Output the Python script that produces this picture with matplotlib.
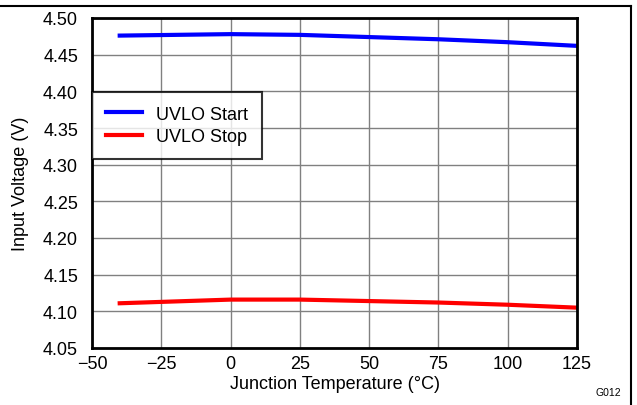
import matplotlib.pyplot as plt
from matplotlib.lines import Line2D

plt.rcParams['font.family'] = ['Liberation Sans', 'DejaVu Sans']

# junction temperature (C)
temps = [-40, 0, 25, 50, 75, 100, 125]
uvlo_start = [4.476, 4.478, 4.477, 4.474, 4.471, 4.467, 4.462]
uvlo_stop = [4.111, 4.116, 4.116, 4.114, 4.112, 4.109, 4.105]

x_ticks = [-50, -25, 0, 25, 50, 75, 100, 125]
x_labels = ['\u221250', '\u221225', '0', '25', '50', '75', '100', '125']
y_ticks = [4.05, 4.10, 4.15, 4.20, 4.25, 4.30, 4.35, 4.40, 4.45, 4.50]

fig = plt.figure(figsize=(6.37, 4.06), dpi=100)
ax = fig.add_axes([92/637, 1 - 349/406, (577-92)/637, (349-19)/406])

ax.plot(temps, uvlo_start, color='#0000ff', lw=3, label='UVLO Start')
ax.plot(temps, uvlo_stop, color='#ff0000', lw=3, label='UVLO Stop')

ax.set_xlim(-50, 125)
ax.set_ylim(4.05, 4.50)
ax.set_xticks(x_ticks)
ax.set_xticklabels(x_labels)
ax.set_yticks(y_ticks)
ax.set_yticklabels(['%.2f' % v for v in y_ticks])
ax.tick_params(axis='x', length=0, labelsize=13, pad=5)
ax.tick_params(axis='y', length=0, labelsize=13, pad=10)
ax.grid(True, color='#808080', lw=1)
ax.set_axisbelow(True)
for s in ax.spines.values():
    s.set_linewidth(2)
    s.set_color('black')

ax.set_xlabel('Junction Temperature (\u00b0C)', fontsize=13, labelpad=2)
ax.set_ylabel('Input Voltage (V)', fontsize=13, labelpad=10)

leg = ax.legend(loc='upper left', bbox_to_anchor=(0.0, 0.775), fontsize=13,
                frameon=True, fancybox=False, edgecolor='black',
                handlelength=2.0, borderpad=0.75, labelspacing=0.3, borderaxespad=0)
leg.get_frame().set_linewidth(1.5)

fig.text(608/637, 1 - 393/406, 'G012', fontsize=7.5, ha='center', va='center')

# outer frame lines (top and right)
fig.add_artist(Line2D([0, 631/637], [1 - 7/406, 1 - 7/406], color='black', lw=1.5))
fig.add_artist(Line2D([631/637, 631/637], [0, 1 - 7/406], color='black', lw=1.5))

fig.savefig('out.png', dpi=100)
